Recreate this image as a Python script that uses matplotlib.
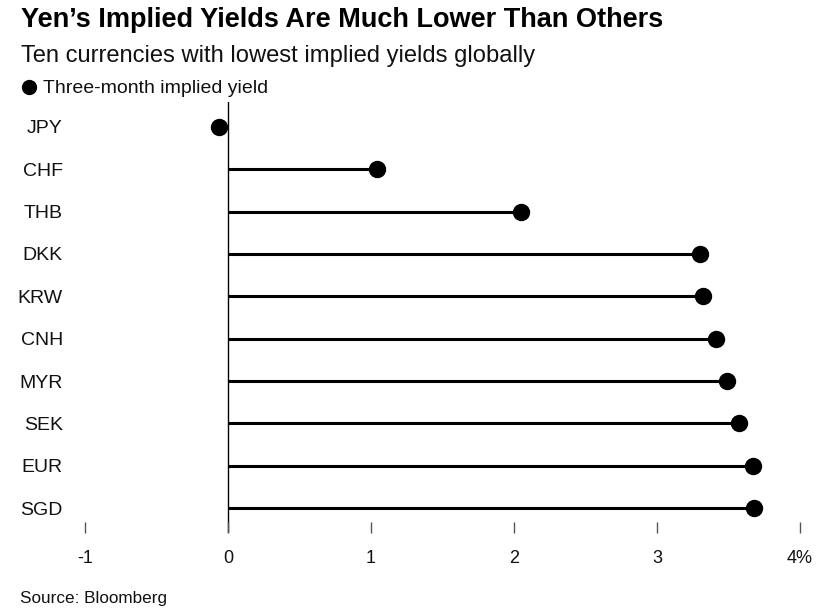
import matplotlib
matplotlib.use("Agg")
import matplotlib.pyplot as plt

plt.rcParams['font.family'] = ['Liberation Sans', 'DejaVu Sans']

currencies = ["JPY", "CHF", "THB", "DKK", "KRW", "CNH", "MYR", "SEK", "EUR", "SGD"]
yields = [-0.06, 1.04, 2.05, 3.30, 3.32, 3.41, 3.49, 3.57, 3.67, 3.68]
xticks = [-1, 0, 1, 2, 3, 4]
xtick_labels = ["-1", "0", "1", "2", "3", "4%"]

title = "Yen’s Implied Yields Are Much Lower Than Others"
subtitle = "Ten currencies with lowest implied yields globally"
legend_label = "Three-month implied yield"
source = "Source: Bloomberg"

W, H = 831, 611
fig = plt.figure(figsize=(W / 100, H / 100), dpi=100)

def fx(px):
    return px / W

def fy(py):
    return 1 - py / H

ax_left, ax_right, ax_top, ax_bottom = 85, 800, 102, 533
ax = fig.add_axes([fx(ax_left), fy(ax_bottom), (ax_right - ax_left) / W, (ax_bottom - ax_top) / H])

pos = list(range(len(currencies)))
ax.hlines(pos, 0, yields, color="black", lw=2.2, zorder=2)
ax.plot(yields, pos, "o", color="black", ms=11.5, zorder=3, label=legend_label)
ax.axvline(0, color="black", lw=1, zorder=1)

ax.set_xlim(-1, 4)
ax.set_ylim(len(currencies) - 1 + 0.59, -0.59)

ax.set_xticks(xticks)
ax.set_xticklabels(xtick_labels, fontsize=13, color="#111111")
ax.set_yticks(pos)
ax.set_yticklabels(currencies, fontsize=14, color="#111111")
ax.tick_params(axis="x", direction="in", length=8, width=1, color="#555555", pad=12)
ax.tick_params(axis="y", length=0, pad=16)
for s in ax.spines.values():
    s.set_visible(False)

fig.text(fx(21), fy(27), title, fontsize=19.5, fontweight="bold", ha="left", va="baseline", color="#000000")
fig.text(fx(21), fy(62), subtitle, fontsize=17.1, ha="left", va="baseline", color="#111111")
fig.text(fx(43), fy(93), legend_label, fontsize=14, ha="left", va="baseline", color="#111111")
fig.lines.append(plt.Line2D([fx(28.5)], [fy(87)], marker="o", ms=10, color="black", transform=fig.transFigure))
fig.text(fx(20), fy(603), source, fontsize=12.3, ha="left", va="baseline", color="#111111")

fig.savefig("out.png", dpi=100, facecolor="white")
